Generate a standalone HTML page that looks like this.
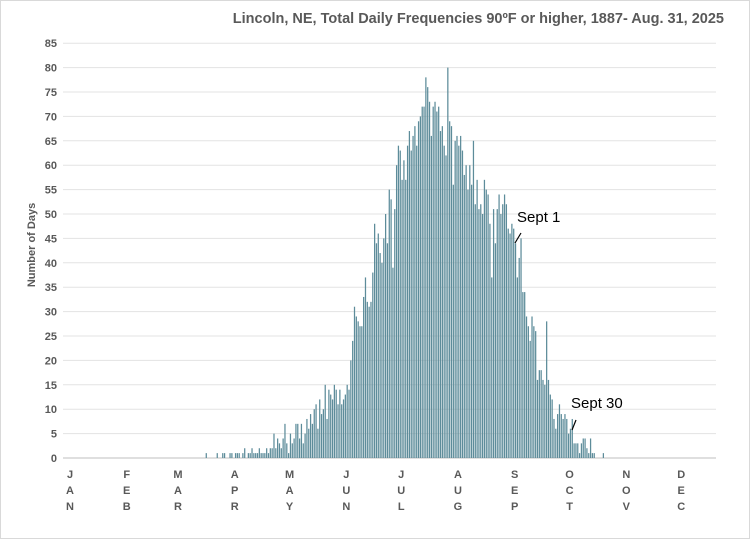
<!DOCTYPE html>
<html><head><meta charset="utf-8"><style>
body{margin:0;background:#fff;}
svg{display:block;font-family:"Liberation Sans",sans-serif;}
</style></head><body>
<svg id="chart" width="750" height="539" viewBox="0 0 750 539">
<rect x="0.5" y="0.5" width="749" height="538" fill="#fff" stroke="#d9d9d9"/>
<text x="724" y="23" text-anchor="end" font-size="14.5" font-weight="bold" fill="#595959">Lincoln, NE, Total Daily Frequencies 90ºF or higher, 1887- Aug. 31, 2025</text>
<text transform="translate(35,245) rotate(-90)" text-anchor="middle" font-size="11" font-weight="bold" fill="#595959">Number of Days</text>
<g id="grid"></g><g id="bars"></g><g id="xlab"></g>
<text x="517" y="222" font-size="15" fill="#000">Sept 1</text>
<line x1="515" y1="243" x2="521" y2="233" stroke="#000" stroke-width="1.2"/>
<text x="571" y="408" font-size="15" fill="#000">Sept 30</text>
<line x1="572" y1="430" x2="576" y2="420" stroke="#000" stroke-width="1.2"/>
</svg>
<script>
const yTicks=[0,5,10,15,20,25,30,35,40,45,50,55,60,65,70,75,80,85];
const months=["JAN","FEB","MAR","APR","MAY","JUN","JUL","AUG","SEP","OCT","NOV","DEC"];
const monthStartDays=[0,31,59,90,120,151,181,212,243,273,304,334];
const startDay=75;
const counts=[
1,0,0,0,0,0,1,0,0,1,
1,0,0,1,1,0,1,1,1,0,
1,2,0,1,1,2,1,1,1,2,
1,1,1,2,1,2,2,5,2,4,
3,2,4,7,3,1,5,3,4,7,
7,4,7,3,5,8,6,9,7,10,
11,6,12,9,10,15,8,14,13,12,
15,14,11,14,11,12,13,15,14,20,
24,31,29,28,27,27,33,37,32,31,
32,38,48,44,46,42,40,45,50,44,
55,53,39,51,60,64,63,57,61,57,
64,67,63,66,68,64,69,70,72,72,
78,76,73,66,72,73,71,72,67,68,
64,62,80,69,68,56,65,66,64,66,
63,58,60,55,60,56,65,52,57,51,
52,50,57,55,54,48,37,51,44,51,
54,50,52,54,52,47,46,48,47,44,
37,41,45,34,34,29,27,24,29,27,
26,16,18,18,16,15,28,16,13,12,
8,6,9,11,9,8,9,8,5,6,
8,3,3,3,1,3,4,4,2,1,
4,1,1,0,0,0,0,1,0,0];
const NS="http://www.w3.org/2000/svg";
const y0=458,pxPerUnit=4.88,x0=69,pxPerDay=1.83;
const yS=v=>y0-v*pxPerUnit;
const xS=d=>x0+d*pxPerDay;
const grid=document.getElementById('grid');
yTicks.forEach(t=>{
 const l=document.createElementNS(NS,'line');
 l.setAttribute('x1',63);l.setAttribute('x2',716);l.setAttribute('y1',yS(t));l.setAttribute('y2',yS(t));
 l.setAttribute('stroke',t===0?'#bfbfbf':'#e3e3e3');l.setAttribute('stroke-width','1');
 
 
 grid.appendChild(l);
 const tx=document.createElementNS(NS,'text');
 tx.setAttribute('x',57);tx.setAttribute('y',yS(t)+4);tx.setAttribute('text-anchor','end');
 tx.setAttribute('font-size','11');tx.setAttribute('font-weight','bold');tx.setAttribute('fill','#595959');
 tx.textContent=t;
 
 
 grid.appendChild(tx);
});
const bars=document.getElementById('bars');
counts.forEach((v,i)=>{
 if(v<=0)return;
 const r=document.createElementNS(NS,'rect');
 r.setAttribute('x',xS(startDay+i)-0.6);r.setAttribute('width',1.25);
 r.setAttribute('y',yS(v));r.setAttribute('height',v*pxPerUnit);
 r.setAttribute('fill','#5d8c9a');
 
 
 bars.appendChild(r);
});
const xl=document.getElementById('xlab');
months.forEach((m,i)=>{
 const g=document.createElementNS(NS,'text');
 g.setAttribute('text-anchor','middle');g.setAttribute('font-size','11');g.setAttribute('font-weight','bold');g.setAttribute('fill','#595959');
 
 
 const cx=xS(monthStartDays[i])+1;
 m.split('').forEach((c,k)=>{
  const ts=document.createElementNS(NS,'tspan');
  ts.setAttribute('x',cx);ts.setAttribute('y',478+k*16);ts.textContent=c;g.appendChild(ts);
 });
 xl.appendChild(g);
});
</script>
</body></html>
